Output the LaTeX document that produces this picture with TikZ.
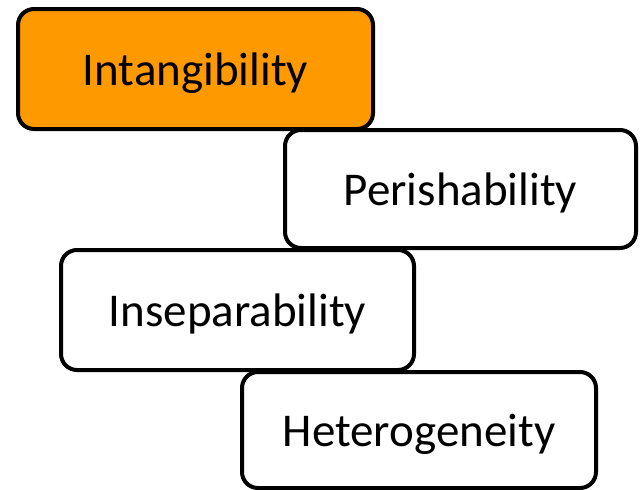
\documentclass[tikz,border=0pt]{standalone}
\usepackage{fontspec}
\setmainfont{Carlito}
\definecolor{accent}{HTML}{FF9900}
\tikzset{
  card/.style={draw=black, line width=4pt, rounded corners=16pt, fill=white,
    inner sep=0pt, text height=32pt, text depth=0pt,
    font=\fontsize{47}{52}\selectfont},
}
\begin{document}
\begin{tikzpicture}[x=1pt, y=-1pt]
  \useasboundingbox (0,0) rectangle (640,490);
  \node[card, fill=accent, minimum width=355pt, minimum height=120pt] (intang) at (195.5,69) {Intangibility};
  \node[card, minimum width=351pt, minimum height=118pt] (perish) at (460.5,189) {Perishability};
  \node[card, minimum width=353pt, minimum height=120pt] (insep) at (237.5,310) {Inseparability};
  \node[card, minimum width=354pt, minimum height=116pt] (hetero) at (419,430) {Heterogeneity};
\end{tikzpicture}
\end{document}
